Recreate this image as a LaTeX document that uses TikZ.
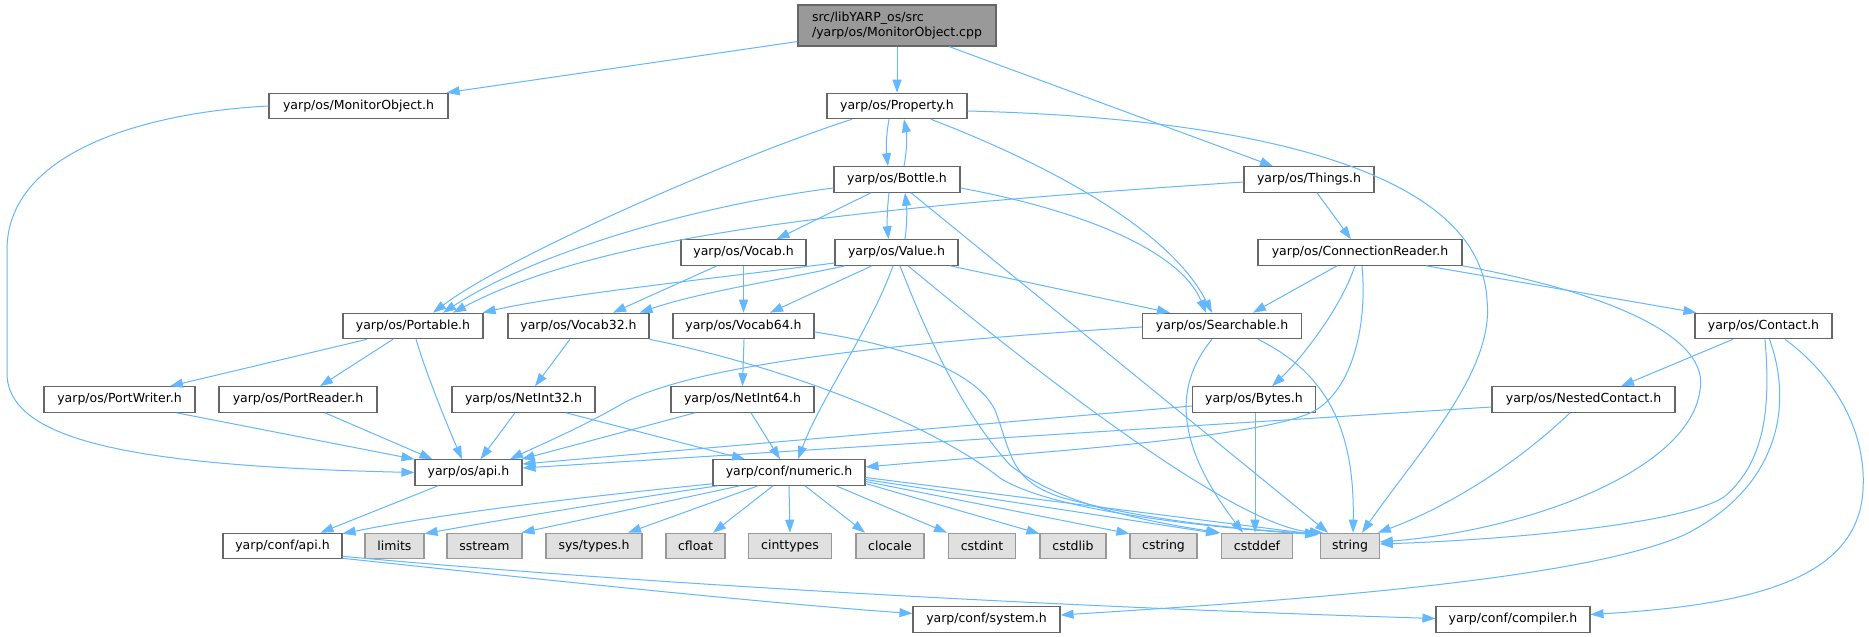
\documentclass[tikz,border=0pt]{standalone}
\usepackage{fontspec}
\setmainfont{DejaVu Sans}
\usetikzlibrary{arrows.meta}
\definecolor{edgec}{HTML}{63B8FF}
\definecolor{bordc}{HTML}{666666}
\definecolor{leafb}{HTML}{999999}
\definecolor{leaff}{HTML}{E0E0E0}
\definecolor{rootf}{HTML}{999999}
\tikzset{
  hbox/.style={draw=bordc, fill=white, line width=1.1pt, minimum height=25.5pt, inner sep=0pt, font=\fontsize{12.5}{15.5}\selectfont},
  leaf/.style={hbox, draw=leafb, fill=leaff},
  rootbox/.style={hbox, fill=rootf, minimum height=41pt, align=left},
  dep/.style={draw=edgec, line width=1pt, -{Triangle[length=13pt,width=9pt]}},
}
\begin{document}
\begin{tikzpicture}[x=1pt,y=-1pt]
\fill[white] (0,0) rectangle (1869,637);
\useasboundingbox (0,0) rectangle (1869,637);
% nodes
\node[rootbox, minimum width=198pt] (root) at (897,25.5) {src/libYARP\_os/src\\/yarp/os/MonitorObject.cpp};
\node[hbox, minimum width=179pt] (mon) at (358.5,106) {yarp/os/MonitorObject.h};
\node[hbox, minimum width=140pt] (prop) at (897,106) {yarp/os/Property.h};
\node[hbox, minimum width=126pt] (bottle) at (897,179.5) {yarp/os/Bottle.h};
\node[hbox, minimum width=130pt] (things) at (1309,179.5) {yarp/os/Things.h};
\node[hbox, minimum width=125pt] (vocab) at (743.5,252.5) {yarp/os/Vocab.h};
\node[hbox, minimum width=123pt] (value) at (896.5,252.5) {yarp/os/Value.h};
\node[hbox, minimum width=204pt] (conn) at (1360,252.5) {yarp/os/ConnectionReader.h};
\node[hbox, minimum width=140pt] (portable) at (413,326) {yarp/os/Portable.h};
\node[hbox, minimum width=141pt] (vthirty) at (578.5,326) {yarp/os/Vocab32.h};
\node[hbox, minimum width=141pt] (vsixty) at (743.5,326) {yarp/os/Vocab64.h};
\node[hbox, minimum width=159pt] (search) at (1222,326) {yarp/os/Searchable.h};
\node[hbox, minimum width=137pt] (contact) at (1763.5,326) {yarp/os/Contact.h};
\node[hbox, minimum width=151pt] (pw) at (119.5,399.5) {yarp/os/PortWriter.h};
\node[hbox, minimum width=158pt] (pr) at (298,399.5) {yarp/os/PortReader.h};
\node[hbox, minimum width=143pt] (nthirty) at (523.5,399.5) {yarp/os/NetInt32.h};
\node[hbox, minimum width=143pt] (nsixty) at (742.5,399.5) {yarp/os/NetInt64.h};
\node[hbox, minimum width=123pt] (bytes) at (1254,399.5) {yarp/os/Bytes.h};
\node[hbox, minimum width=183pt] (nested) at (1583.5,399.5) {yarp/os/NestedContact.h};
\node[hbox, minimum width=107pt] (osapi) at (468.5,472.5) {yarp/os/api.h};
\node[hbox, minimum width=152pt] (numeric) at (789,472.5) {yarp/conf/numeric.h};
\node[hbox, minimum width=119pt] (confapi) at (282.5,546) {yarp/conf/api.h};
\node[leaf, minimum width=59pt] (limits) at (394.5,546) {limits};
\node[leaf, minimum width=75pt] (sstream) at (484.5,546) {sstream};
\node[leaf, minimum width=96pt] (systypes) at (594,546) {sys/types.h};
\node[leaf, minimum width=59pt] (cfloat) at (695.5,546) {cfloat};
\node[leaf, minimum width=83pt] (cinttypes) at (790,546) {cinttypes};
\node[leaf, minimum width=68pt] (clocale) at (890,546) {clocale};
\node[leaf, minimum width=67pt] (cstdint) at (982,546) {cstdint};
\node[leaf, minimum width=66pt] (cstdlib) at (1073,546) {cstdlib};
\node[leaf, minimum width=67pt] (cstring) at (1163.5,546) {cstring};
\node[leaf, minimum width=71pt] (cstddef) at (1257,546) {cstddef};
\node[leaf, minimum width=58.5pt] (string) at (1350,546) {string};
\node[hbox, minimum width=147pt] (system) at (986.5,619.5) {yarp/conf/system.h};
\node[hbox, minimum width=154pt] (compiler) at (1513,619.5) {yarp/conf/compiler.h};
% edges from root
\draw[dep] ([yshift=5pt]root.south west) -- ([xshift=-2pt]mon.north east);
\draw[dep] (root.south) -- (prop.north);
\draw[dep] ([xshift=52pt]root.south) -- ([xshift=-36pt]things.north);
% MonitorObject
\draw[dep] (mon.west) .. controls (150,112) and (7,150) .. (7,250) -- (7,373) .. controls (7,440) and (130,466) .. (osapi.west);
% Property
\draw[dep] ([xshift=-8pt]prop.south) .. controls (886,135) and (886,150) .. ([xshift=-9pt]bottle.north);
\draw[dep] ([xshift=7pt]bottle.north) .. controls (907,150) and (907,135) .. ([xshift=7pt]prop.south);
\draw[dep] ([xshift=-45pt]prop.south) .. controls (740,155) and (510,255) .. ([xshift=20pt]portable.north);
\draw[dep] ([xshift=34pt]prop.south) .. controls (1050,165) and (1170,230) .. ([xshift=-10pt]search.north);
\draw[dep] ([yshift=-5pt]prop.east) .. controls (1250,118) and (1480,170) .. (1487,300) .. controls (1495,370) and (1420,450) .. ([xshift=12pt]string.north);
% Bottle
\draw[dep] ([xshift=-26pt]bottle.south) -- ([xshift=33pt]vocab.north);
\draw[dep] ([xshift=-8pt]bottle.south) .. controls (887,210) and (887,225) .. ([xshift=-8pt]value.north);
\draw[dep] ([xshift=8.5pt]value.north) .. controls (907,225) and (907,210) .. ([xshift=8pt]bottle.south);
\draw[dep] ([yshift=-8.5pt]bottle.west) .. controls (700,205) and (540,250) .. ([xshift=30pt]portable.north);
\draw[dep] ([yshift=-8.5pt]bottle.east) .. controls (1080,210) and (1180,250) .. ([xshift=-16pt]search.north);
\draw[dep] ([xshift=14pt]bottle.south) -- ([xshift=-22pt]string.north);
% Things
\draw[dep] ([yshift=-2.5pt]things.west) .. controls (850,208) and (600,235) .. ([xshift=40pt]portable.north);
\draw[dep] ([xshift=8pt]things.south) -- ([xshift=-9pt]conn.north);
% Value
\draw[dep] ([yshift=-10.5pt]value.west) .. controls (700,280) and (560,295) .. ([xshift=-1pt]portable.north east);
\draw[dep] ([xshift=-51.5pt]value.south) .. controls (780,280) and (700,292) .. ([xshift=61pt]vthirty.north);
\draw[dep] ([xshift=-24.5pt]value.south) -- ([xshift=26.5pt]vsixty.north);
\draw[dep] ([xshift=53.5pt]value.south) -- ([xshift=-52pt]search.north);
\draw[dep] ([xshift=-3.5pt]value.south) .. controls (870,330) and (820,400) .. ([xshift=9pt]numeric.north);
\draw[dep] ([xshift=3.5pt]value.south) .. controls (925,330) and (960,410) .. (1010,465) .. controls (1060,505) and (1150,522) .. ([xshift=-37pt]cstddef.north);
\draw[dep] ([xshift=11.5pt]value.south) .. controls (1100,425) and (1250,528) .. ([xshift=-27pt]string.north);
% Vocab
\draw[dep] ([xshift=-26.5pt]vocab.south) -- ([xshift=34.5pt]vthirty.north);
\draw[dep] (vocab.south) -- (vsixty.north);
% ConnectionReader
\draw[dep] ([xshift=-23pt]conn.south) -- ([xshift=31pt]search.north);
\draw[dep] ([xshift=-5pt]conn.south) .. controls (1340,310) and (1300,360) .. ([xshift=18pt]bytes.north);
\draw[dep] ([xshift=2pt]conn.south) .. controls (1368,330) and (1350,395) .. (1310,413) .. controls (1250,440) and (1000,455) .. ([yshift=5.5pt]numeric.east);
\draw[dep] ([xshift=66pt]conn.south) -- ([xshift=-67pt]contact.north);
\draw[dep] (conn.south east) .. controls (1620,295) and (1710,340) .. (1700,390) .. controls (1690,470) and (1530,530) .. ([yshift=4pt]string.east);
% Portable
\draw[dep] ([xshift=-46pt]portable.south) -- ([xshift=50.5pt]pw.north);
\draw[dep] ([xshift=-20pt]portable.south) -- ([xshift=22pt]pr.north);
\draw[dep] ([xshift=3pt]portable.south) .. controls (425,370) and (445,420) .. ([xshift=-6.5pt]osapi.north);
% Vocab32 / Vocab64
\draw[dep] ([xshift=-8.5pt]vthirty.south) -- ([xshift=11.5pt]nthirty.north);
\draw[dep] (vthirty.south east) .. controls (800,370) and (940,430) .. (1000,478) .. controls (1050,510) and (1200,527) .. ([xshift=-2pt,yshift=-2pt]string.north west);
\draw[dep] ([xshift=0.5pt]vsixty.south) -- (nsixty.north);
\draw[dep] ([yshift=-6pt]vsixty.east) .. controls (900,345) and (975,370) .. (995,410) .. controls (1012,455) and (1010,480) .. (1060,497) .. controls (1150,522) and (1250,530) .. ([xshift=-2pt,yshift=-1pt]string.north west);
% Searchable
\draw[dep] ([yshift=-1pt]search.west) .. controls (850,345) and (680,370) .. (620,405) .. controls (580,428) and (540,445) .. ([xshift=41.5pt]osapi.north);
\draw[dep] ([xshift=-10pt]search.south) .. controls (1170,390) and (1180,450) .. ([xshift=-14pt]cstddef.north);
\draw[dep] ([xshift=36pt]search.south) .. controls (1320,370) and (1355,420) .. ([xshift=3pt]string.north);
% Contact
\draw[dep] ([xshift=-30.5pt]contact.south) -- ([xshift=37.5pt]nested.north);
\draw[dep] ([xshift=1.5pt]contact.south) .. controls (1770,400) and (1768,460) .. (1724,497) .. controls (1680,525) and (1500,540) .. ([yshift=2pt]string.east);
\draw[dep] ([xshift=6pt]contact.south) .. controls (1795,410) and (1775,490) .. (1684,535) .. controls (1580,580) and (1300,600) .. ([yshift=4.5pt]system.east);
\draw[dep] ([xshift=21.5pt]contact.south) .. controls (1840,380) and (1870,440) .. (1862,500) .. controls (1850,580) and (1750,605) .. ([yshift=5pt]compiler.east);
% NestedContact, Bytes
\draw[dep] ([yshift=-7.5pt]nested.west) -- ([yshift=4.5pt]osapi.east);
\draw[dep] ([xshift=-13.5pt]nested.south) .. controls (1510,470) and (1440,510) .. ([xshift=-2pt]string.north east);
\draw[dep] ([yshift=-6.5pt]bytes.west) -- ([yshift=8.5pt]osapi.east);
\draw[dep] ([xshift=1pt]bytes.south) -- ([xshift=-2pt]cstddef.north);
% PortWriter, PortReader, NetInt
\draw[dep] ([xshift=57pt]pw.south) -- (osapi.north west);
\draw[dep] ([xshift=27pt]pr.south) -- ([xshift=-36pt]osapi.north);
\draw[dep] ([xshift=-8.5pt]nthirty.south) -- ([xshift=12pt]osapi.north);
\draw[dep] ([xshift=42.5pt]nthirty.south) -- ([xshift=-44pt]numeric.north);
\draw[dep] ([xshift=-47.5pt]nsixty.south) -- ([xshift=-1pt]osapi.north east);
\draw[dep] ([xshift=8.5pt]nsixty.south) -- ([xshift=-9pt]numeric.north);
% os/api
\draw[dep] ([xshift=-30.5pt]osapi.south) -- ([xshift=38pt]confapi.north);
% numeric
\draw[dep] ([yshift=2pt]numeric.south west) .. controls (600,495) and (450,512) .. ([yshift=-1pt]confapi.north east);
\draw[dep] ([xshift=-71pt]numeric.south) .. controls (620,500) and (500,520) .. ([yshift=-1pt]limits.north east);
\draw[dep] ([xshift=-49pt]numeric.south) -- ([xshift=37pt]sstream.north);
\draw[dep] ([xshift=-31pt]numeric.south) -- ([xshift=34pt]systypes.north);
\draw[dep] ([xshift=-16pt]numeric.south) -- ([xshift=17.5pt]cfloat.north);
\draw[dep] (numeric.south) -- (cinttypes.north);
\draw[dep] ([xshift=16pt]numeric.south) -- ([xshift=-25pt]clocale.north);
\draw[dep] ([xshift=47pt]numeric.south) -- ([xshift=-35pt]cstdint.north);
\draw[dep] ([yshift=-11pt]numeric.east) -- ([yshift=-1pt]cstdlib.north west);
\draw[dep] ([yshift=-9pt]numeric.east) -- ([yshift=-1pt]cstring.north west);
\draw[dep] ([yshift=-7pt]numeric.east) -- ([xshift=-2pt,yshift=-1pt]cstddef.north west);
\draw[dep] ([yshift=-5pt]numeric.east) -- ([xshift=-2pt,yshift=-2pt]string.north west);
% conf/api
\draw[dep] ([yshift=1pt]confapi.south east) .. controls (500,575) and (750,602) .. ([yshift=6pt]system.west);
\draw[dep] ([yshift=3pt]confapi.south east) .. controls (600,580) and (1000,605) .. ([yshift=1pt]compiler.west);
\end{tikzpicture}
\end{document}
